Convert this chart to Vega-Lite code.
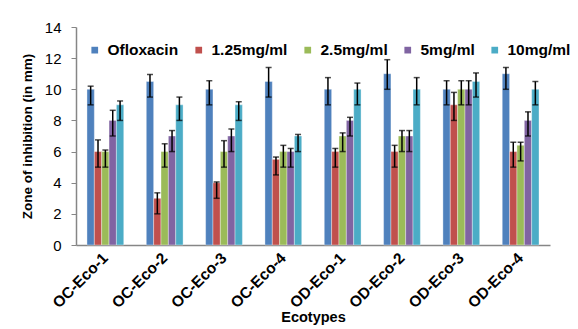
{
  "$schema": "https://vega.github.io/schema/vega-lite/v6.json",
  "width": 474,
  "height": 218,
  "autosize": {"type": "none"},
  "padding": {"left": 76, "top": 27, "right": 28, "bottom": 84},
  "background": "#ffffff",
  "config": {
    "font": "Liberation Sans",
    "view": {"stroke": null},
    "axisY": {
      "labelOverlap": false,
      "titleFont": "Liberation Sans",
      "titleFontSize": 13.5,
      "titleFontWeight": "bold",
      "titleColor": "#000000",
      "titlePadding": 10,
      "labelFontSize": 15,
      "labelColor": "#000000",
      "labelPadding": 10,
      "grid": false,
      "tickColor": "#868686",
      "tickSize": 5,
      "domainColor": "#868686",
      "domainWidth": 1.5
    }
  },
  "data": {
    "values": [
      {"eco": "OC-Eco-1", "treat": "Ofloxacin", "value": 10, "lo": 9, "hi": 10.2},
      {"eco": "OC-Eco-1", "treat": "1.25mg/ml", "value": 6, "lo": 5, "hi": 6.75},
      {"eco": "OC-Eco-1", "treat": "2.5mg/ml", "value": 6, "lo": 5, "hi": 6.1},
      {"eco": "OC-Eco-1", "treat": "5mg/ml", "value": 8, "lo": 7, "hi": 8.65},
      {"eco": "OC-Eco-1", "treat": "10mg/ml", "value": 9, "lo": 8, "hi": 9.25},
      {"eco": "OC-Eco-2", "treat": "Ofloxacin", "value": 10.5, "lo": 9.5, "hi": 10.95},
      {"eco": "OC-Eco-2", "treat": "1.25mg/ml", "value": 3, "lo": 2, "hi": 3.35},
      {"eco": "OC-Eco-2", "treat": "2.5mg/ml", "value": 6, "lo": 5, "hi": 6.5},
      {"eco": "OC-Eco-2", "treat": "5mg/ml", "value": 7, "lo": 6, "hi": 7.35},
      {"eco": "OC-Eco-2", "treat": "10mg/ml", "value": 9, "lo": 8, "hi": 9.5},
      {"eco": "OC-Eco-3", "treat": "Ofloxacin", "value": 10, "lo": 9, "hi": 10.55},
      {"eco": "OC-Eco-3", "treat": "1.25mg/ml", "value": 4, "lo": 3, "hi": 4.05},
      {"eco": "OC-Eco-3", "treat": "2.5mg/ml", "value": 6, "lo": 5, "hi": 6.7},
      {"eco": "OC-Eco-3", "treat": "5mg/ml", "value": 7, "lo": 6, "hi": 7.45},
      {"eco": "OC-Eco-3", "treat": "10mg/ml", "value": 9, "lo": 8, "hi": 9.2},
      {"eco": "OC-Eco-4", "treat": "Ofloxacin", "value": 10.5, "lo": 9.5, "hi": 11.4},
      {"eco": "OC-Eco-4", "treat": "1.25mg/ml", "value": 5.5, "lo": 4.5, "hi": 5.65},
      {"eco": "OC-Eco-4", "treat": "2.5mg/ml", "value": 6, "lo": 5, "hi": 6.4},
      {"eco": "OC-Eco-4", "treat": "5mg/ml", "value": 6, "lo": 5, "hi": 6.2},
      {"eco": "OC-Eco-4", "treat": "10mg/ml", "value": 7, "lo": 6, "hi": 7.1},
      {"eco": "OD-Eco-1", "treat": "Ofloxacin", "value": 10, "lo": 9, "hi": 10.75},
      {"eco": "OD-Eco-1", "treat": "1.25mg/ml", "value": 6, "lo": 5, "hi": 6.2},
      {"eco": "OD-Eco-1", "treat": "2.5mg/ml", "value": 7, "lo": 6, "hi": 7.2},
      {"eco": "OD-Eco-1", "treat": "5mg/ml", "value": 8, "lo": 7, "hi": 8.2},
      {"eco": "OD-Eco-1", "treat": "10mg/ml", "value": 10, "lo": 9, "hi": 10.4},
      {"eco": "OD-Eco-2", "treat": "Ofloxacin", "value": 11, "lo": 10, "hi": 11.9},
      {"eco": "OD-Eco-2", "treat": "1.25mg/ml", "value": 6, "lo": 5, "hi": 6.4},
      {"eco": "OD-Eco-2", "treat": "2.5mg/ml", "value": 7, "lo": 6, "hi": 7.35},
      {"eco": "OD-Eco-2", "treat": "5mg/ml", "value": 7, "lo": 6, "hi": 7.35},
      {"eco": "OD-Eco-2", "treat": "10mg/ml", "value": 10, "lo": 9, "hi": 10.75},
      {"eco": "OD-Eco-3", "treat": "Ofloxacin", "value": 10, "lo": 9, "hi": 10.55},
      {"eco": "OD-Eco-3", "treat": "1.25mg/ml", "value": 9, "lo": 8, "hi": 9.8},
      {"eco": "OD-Eco-3", "treat": "2.5mg/ml", "value": 10, "lo": 9, "hi": 10.55},
      {"eco": "OD-Eco-3", "treat": "5mg/ml", "value": 10, "lo": 9, "hi": 10.55},
      {"eco": "OD-Eco-3", "treat": "10mg/ml", "value": 10.5, "lo": 9.5, "hi": 11.05},
      {"eco": "OD-Eco-4", "treat": "Ofloxacin", "value": 11, "lo": 10, "hi": 11.4},
      {"eco": "OD-Eco-4", "treat": "1.25mg/ml", "value": 6, "lo": 5, "hi": 6.6},
      {"eco": "OD-Eco-4", "treat": "2.5mg/ml", "value": 6.4, "lo": 5.4, "hi": 6.6},
      {"eco": "OD-Eco-4", "treat": "5mg/ml", "value": 8, "lo": 7, "hi": 8.55},
      {"eco": "OD-Eco-4", "treat": "10mg/ml", "value": 10, "lo": 9, "hi": 10.5}
    ]
  },
  "encoding": {
    "x": {
      "field": "eco",
      "type": "nominal",
      "sort": null,
      "scale": {"paddingInner": 0.38, "paddingOuter": 0.185},
      "axis": {
        "title": "Ecotypes",
        "titleFont": "Liberation Sans",
        "titleFontSize": 14.5,
        "titleFontWeight": "bold",
        "titleColor": "#000000",
        "titlePadding": 0,
        "labelAngle": -45,
        "labelAlign": "right",
        "labelBaseline": "middle",
        "labelFontSize": 15.5,
        "labelFontWeight": "bold",
        "labelColor": "#000000",
        "labelPadding": 10,
        "labelOverlap": false,
        "ticks": false,
        "domainColor": "#868686",
        "domainWidth": 1.5
      }
    },
    "xOffset": {
      "field": "treat",
      "type": "nominal",
      "scale": {"domain": ["Ofloxacin", "1.25mg/ml", "2.5mg/ml", "5mg/ml", "10mg/ml"], "paddingInner": 0, "paddingOuter": 0}
    }
  },
  "layer": [
    {
      "mark": {"type": "bar", "stroke": "#ffffff", "strokeOpacity": 0.6, "strokeWidth": 0.6},
      "encoding": {
        "y": {
          "field": "value",
          "type": "quantitative",
          "scale": {"domain": [0, 14], "nice": false},
          "axis": {"values": [0, 2, 4, 6, 8, 10, 12, 14], "title": "Zone of inhibition (in mm)"}
        },
        "color": {
          "field": "treat",
          "type": "nominal",
          "scale": {
            "domain": ["Ofloxacin", "1.25mg/ml", "2.5mg/ml", "5mg/ml", "10mg/ml"],
            "range": ["#4F81BD", "#C0504D", "#9BBB59", "#8064A2", "#4BACC6"]
          },
          "legend": {
            "title": null,
            "orient": "none",
            "legendX": 11,
            "legendY": 15,
            "direction": "horizontal",
            "columns": 5,
            "columnPadding": 12,
            "symbolType": "square",
            "symbolSize": 45,
            "symbolStrokeWidth": 0,
            "labelFontSize": 15.5,
            "labelFontWeight": "bold",
            "labelColor": "#000000",
            "labelOffset": 5
          }
        }
      }
    },
    {
      "mark": {"type": "rule", "color": "#000000", "strokeWidth": 1.5},
      "encoding": {
        "y": {"field": "lo", "type": "quantitative", "axis": {"values": [0, 2, 4, 6, 8, 10, 12, 14], "title": "Zone of inhibition (in mm)"}},
        "y2": {"field": "hi"}
      }
    },
    {
      "mark": {"type": "tick", "color": "#000000", "thickness": 1.5, "size": 6},
      "encoding": {"y": {"field": "lo", "type": "quantitative", "axis": {"values": [0, 2, 4, 6, 8, 10, 12, 14], "title": "Zone of inhibition (in mm)"}}}
    },
    {
      "mark": {"type": "tick", "color": "#000000", "thickness": 1.5, "size": 6},
      "encoding": {"y": {"field": "hi", "type": "quantitative", "axis": {"values": [0, 2, 4, 6, 8, 10, 12, 14], "title": "Zone of inhibition (in mm)"}}}
    }
  ]
}
